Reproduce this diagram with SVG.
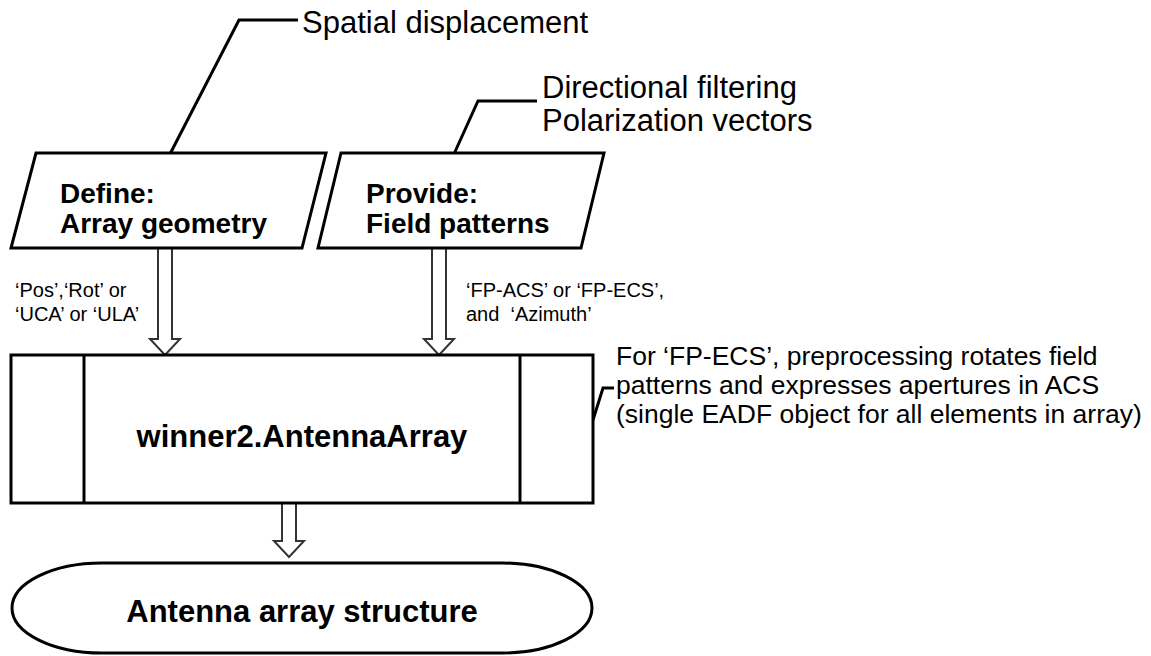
<svg xmlns="http://www.w3.org/2000/svg" width="1151" height="656" viewBox="0 0 1151 656">
  <style>
    .shape { fill: #ffffff; stroke: #000000; stroke-width: 3; }
    .leader { fill: none; stroke: #000000; stroke-width: 3; }
    .arrow { fill: #ffffff; stroke: #333333; stroke-width: 2; }
    .bold { font-family: "Liberation Sans", Arial, sans-serif; font-weight: bold; fill: #000000; }
    .reg { font-family: "Liberation Sans", Arial, sans-serif; fill: #000000; }
  </style>
  <rect width="1151" height="656" fill="#ffffff"/>

  <g id="connectors">
    <polyline class="leader" points="170,154 239,20 298,20"/>
    <polyline class="leader" points="454,154 478,101 537,101"/>
    <polyline class="leader" points="593,420 603,388 614,388"/>
    <path class="arrow" d="M158,249 V339 H150 L165,355 L180,339 H172 V249"/>
    <path class="arrow" d="M432,249 V339 H424 L439,355 L454,339 H446 V249"/>
    <path class="arrow" d="M282,504 V541 H274 L289,557 L304,541 H296 V504"/>
  </g>

  <g id="note-spatial">
    <text class="reg" x="302" y="33" font-size="31">Spatial displacement</text>
  </g>

  <g id="note-directional">
    <text class="reg" x="542" y="98" font-size="31">Directional filtering</text>
    <text class="reg" x="542" y="131" font-size="31">Polarization vectors</text>
  </g>

  <g id="node-define">
    <polygon class="shape" points="36,153 326,153 302,248 11,248"/>
    <text class="bold" x="60" y="203" font-size="28">Define:</text>
    <text class="bold" x="60" y="233" font-size="28">Array geometry</text>
  </g>

  <g id="node-provide">
    <polygon class="shape" points="341,153 604,153 581,248 318,248"/>
    <text class="bold" x="366" y="203" font-size="28">Provide:</text>
    <text class="bold" x="366" y="233" font-size="28">Field patterns</text>
  </g>

  <g id="label-geometry">
    <text class="reg" x="15" y="297" font-size="20">‘Pos’,‘Rot’ or</text>
    <text class="reg" x="15" y="321" font-size="20">‘UCA’ or ‘ULA’</text>
  </g>

  <g id="label-patterns">
    <text class="reg" x="466" y="297" font-size="20">‘FP-ACS’ or ‘FP-ECS’,</text>
    <text class="reg" x="466" y="321" font-size="20" xml:space="preserve">and  ‘Azimuth’</text>
  </g>

  <g id="node-antennaarray">
    <rect class="shape" x="11" y="355" width="582" height="148"/>
    <line class="shape" x1="84" y1="355" x2="84" y2="503"/>
    <line class="shape" x1="520" y1="355" x2="520" y2="503"/>
    <text class="bold" x="302" y="447" font-size="31" text-anchor="middle">winner2.AntennaArray</text>
  </g>

  <g id="note-fpecs">
    <text class="reg" x="616" y="365" font-size="26.5">For ‘FP-ECS’, preprocessing rotates field</text>
    <text class="reg" x="616" y="394" font-size="26.5">patterns and expresses apertures in ACS</text>
    <text class="reg" x="616" y="423" font-size="26.5">(single EADF object for all elements in array)</text>
  </g>

  <g id="node-structure">
    <rect class="shape" x="12" y="563" width="580" height="90" rx="90" ry="45"/>
    <text class="bold" x="302" y="622" font-size="31" text-anchor="middle">Antenna array structure</text>
  </g>
</svg>
